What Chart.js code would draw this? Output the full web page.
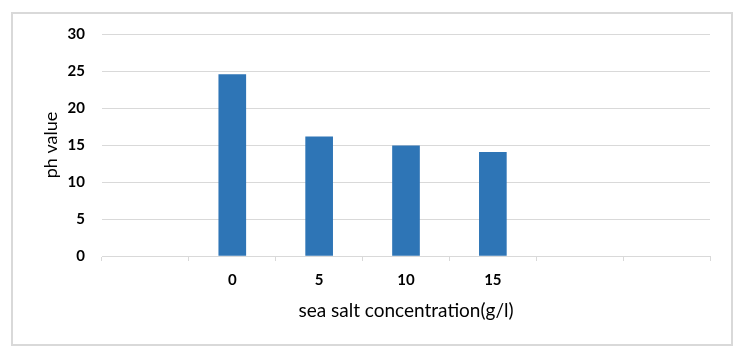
<!DOCTYPE html>
<html>
<head>
<meta charset="utf-8">
<script src="https://cdn.jsdelivr.net/npm/chart.js@4"></script>
<style>
    html, body { margin: 0; padding: 0; background: #fff; }
    #wrap { position: relative; width: 740px; height: 354px; }
    #frame {
        position: absolute; left: 11px; top: 12px; width: 718px; height: 330px;
        border: 2px solid #d9d9d9; pointer-events: none;
    }
</style>
</head>
<body>
<div id="wrap">
    <canvas id="chart" width="740" height="354"></canvas>
    <div id="frame"></div>
</div>
<script>
    // categories (empty slots are part of the original axis)
    const categories = ["", "0", "5", "10", "15", "", ""];
    const phValues = [null, 24.5, 16.1, 14.9, 14.0, null, null];
    const yTicks = [0, 5, 10, 15, 20, 25, 30];

    const fontName = "Lato, 'Open Sans', sans-serif";
    const grey = "#d9d9d9";

    const ctx = document.getElementById("chart");
    const myChart = new Chart(ctx, {
        type: "bar",
        data: {
            labels: categories,
            datasets: [
                {
                    label: "ph value",
                    data: phValues,
                    backgroundColor: "#2e75b6",
                    borderWidth: 0,
                    barThickness: 27
                }
            ]
        },
        options: {
            responsive: false,
            animation: false,
            layout: { padding: { top: 34, right: 30, left: 0, bottom: 0 } },
            plugins: { legend: { display: false }, tooltip: { enabled: false } },
            scales: {
                x: {
                    grid: {
                        display: true,
                        offset: true,
                        drawOnChartArea: false,
                        drawTicks: true,
                        tickLength: 5,
                        color: grey
                    },
                    border: { display: true, color: grey, width: 1 },
                    ticks: {
                        color: "#000",
                        padding: 10,
                        font: { family: fontName, size: 15, weight: "bold" }
                    },
                    title: {
                        display: true,
                        text: "sea salt concentration(g/l)",
                        color: "#000",
                        padding: { top: 0, bottom: 32 },
                        font: { family: fontName, size: 19 }
                    },
                    afterFit: function (scale) { scale.height = 98; }
                },
                y: {
                    min: 0,
                    max: 30,
                    afterBuildTicks: function (scale) {
                        scale.ticks = yTicks.map(v => ({ value: v }));
                    },
                    grid: { color: grey, drawTicks: false },
                    border: { display: false },
                    ticks: {
                        color: "#000",
                        padding: 17,
                        font: { family: fontName, size: 15, weight: "bold" }
                    },
                    title: {
                        display: true,
                        text: "ph value",
                        color: "#000",
                        padding: { top: 40, bottom: 0 },
                        font: { family: fontName, size: 18 }
                    },
                    afterFit: function (scale) { scale.width = 102; }
                }
            }
        }
    });
</script>
</body>
</html>
